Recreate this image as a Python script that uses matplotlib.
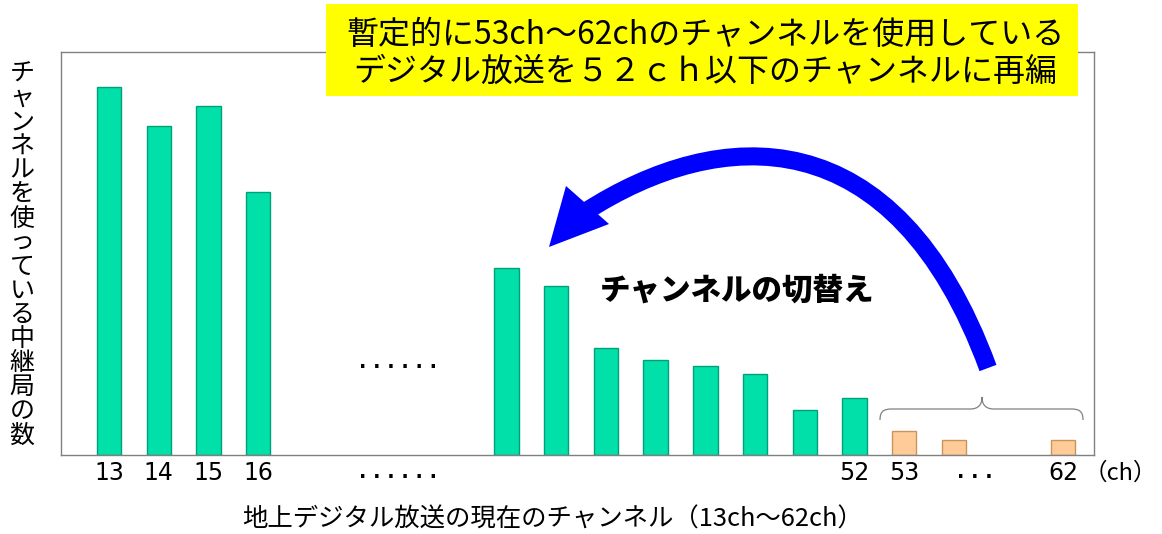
import matplotlib
matplotlib.use('Agg')
import matplotlib.pyplot as plt
from matplotlib.path import Path
from matplotlib.patches import PathPatch, Polygon, Rectangle
import matplotlib.transforms as mtransforms

plt.rcParams['font.family'] = ['Noto Sans CJK JP', 'DejaVu Sans']

# ---- data ----
bar_slots = [0, 1, 2, 3, 8, 9, 10, 11, 12, 13, 14, 15, 16, 17, 19.2]
bar_values = [36.8, 32.9, 34.9, 26.3, 18.7, 16.9, 10.7, 9.5, 8.9, 8.1, 4.5, 5.7, 2.4, 1.5, 1.5]
bar_labels = ['13', '14', '15', '16', '', '', '', '', '', '', '', '52', '53', '', '62']
bar_group = ['current'] * 12 + ['temporary'] * 3

title_lines = ['暫定的に53ch〜62chのチャンネルを使用している',
               'デジタル放送を５２ｃｈ以下のチャンネルに再編']
ylabel_text = 'チャンネルを使っている中継局の数'
xlabel_text = '地上デジタル放送の現在のチャンネル（13ch〜62ch）'
arrow_text = 'チャンネルの切替え'
unit_text = '（ch）'

fill = {'current': '#00E0A8', 'temporary': '#FFCC99'}
edge = {'current': '#00A07A', 'temporary': '#C8945E'}

W, H = 1162, 534
fig = plt.figure(figsize=(W / 100, H / 100), dpi=100)
ax = fig.add_axes([61 / W, 1 - 455 / H, (1094 - 61) / W, (455 - 52) / H])
px = mtransforms.Affine2D().scale(1 / W, -1 / H).translate(0, 1) + fig.transFigure

ax.bar(bar_slots, bar_values, width=0.49,
       color=[fill[g] for g in bar_group],
       edgecolor=[edge[g] for g in bar_group], linewidth=1)
ax.set_xlim(-0.966, 19.82)
ax.set_ylim(0, 40.3)
for s in ax.spines.values():
    s.set_color('#808080')
    s.set_linewidth(1)
ax.set_yticks([])
tick_pos = [s for s, l in zip(bar_slots, bar_labels) if l]
tick_lab = [l for l in bar_labels if l]
ax.set_xticks(tick_pos, tick_lab, fontsize=17, family='DejaVu Sans')
ax.tick_params(axis='x', length=0, pad=4)

# dots
fig.text(398 / W, 1 - 472 / H, '. . . . . .', fontsize=14, fontweight='bold',
         ha='center', va='center', family='DejaVu Sans')
fig.text(398 / W, 1 - 362 / H, '. . . . . .', fontsize=14, fontweight='bold',
         ha='center', va='center', family='DejaVu Sans')
fig.text(975 / W, 1 - 472 / H, '. . .', fontsize=14, fontweight='bold',
         ha='center', va='center', family='DejaVu Sans')
fig.text(1120 / W, 1 - 473 / H, unit_text, fontsize=17, ha='center', va='center',
         family=['Noto Sans CJK JP', 'DejaVu Sans'])

# x label
fig.text(553 / W, 1 - 520 / H, xlabel_text, fontsize=18.3, ha='center', va='center')

# y label, vertical
for i, ch in enumerate(ylabel_text):
    fig.text(22 / W, 1 - (74 + i * 24.1) / H, ch, fontsize=18, ha='center', va='center')

# title box
fig.add_artist(Rectangle((326, 4), 752, 92, transform=px, facecolor='#FFFF00',
                         edgecolor='none', zorder=3))
fig.text(705 / W, 1 - 35 / H, title_lines[0], fontsize=23, ha='center', va='center', zorder=4)
fig.text(705 / W, 1 - 72 / H, title_lines[1], fontsize=23, ha='center', va='center', zorder=4)

# brace
brace = Path([(880, 420), (880, 411), (884, 409), (892, 409),
              (970, 409), (978, 409), (982, 405), (982, 397),
              (982, 405), (986, 409), (994, 409),
              (1071, 409), (1079, 409), (1083, 411), (1083, 420)],
             [Path.MOVETO, Path.CURVE4, Path.CURVE4, Path.CURVE4,
              Path.LINETO, Path.CURVE4, Path.CURVE4, Path.CURVE4,
              Path.CURVE4, Path.CURVE4, Path.CURVE4,
              Path.LINETO, Path.CURVE4, Path.CURVE4, Path.CURVE4])
fig.add_artist(PathPatch(brace, transform=px, facecolor='none', edgecolor='#808080',
                         linewidth=0.9, zorder=3))

# curved blue arrow
shaft = Path([(988, 368), (895, 115), (720, 125), (585, 212)],
             [Path.MOVETO, Path.CURVE4, Path.CURVE4, Path.CURVE4])
fig.add_artist(PathPatch(shaft, transform=px, facecolor='none', edgecolor='#0000FF',
                         linewidth=13, capstyle='butt', zorder=3))
fig.add_artist(Polygon([(549, 247), (566, 186), (609, 224)], closed=True,
                       transform=px, facecolor='#0000FF', edgecolor='none', zorder=3))

fig.text(737 / W, 1 - 290 / H, arrow_text, fontsize=22, fontweight='heavy',
         ha='center', va='center', zorder=4)

fig.savefig('out.png', dpi=100)
